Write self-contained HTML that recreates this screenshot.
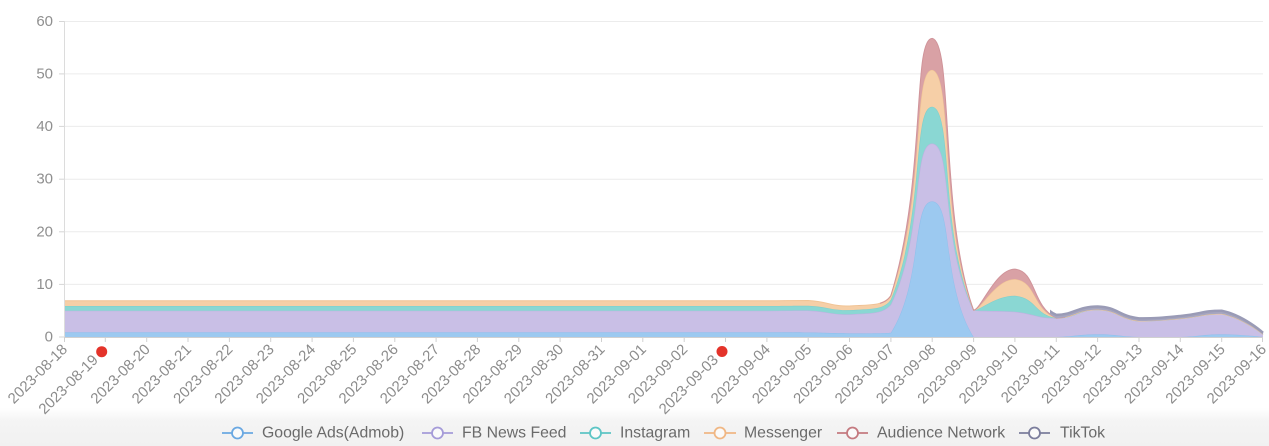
<!DOCTYPE html>
<html>
<head>
<meta charset="utf-8">
<style>
  html,body{margin:0;padding:0;background:#fff;}
  body{width:1269px;height:446px;overflow:hidden;position:relative;font-family:"Liberation Sans",Arial,sans-serif;}
  #bg{position:absolute;left:0;top:408px;width:1269px;height:38px;background:linear-gradient(#ffffff 0%,#f4f4f4 35%,#f1f1f1 100%);}
  svg{position:absolute;left:0;top:0;}
  .yl{font-size:15px;fill:#8f8f8f;}
  .xl{font-size:15px;fill:#8c8c8c;}
  .lg{font-size:15.8px;fill:#6a6a6a;}
</style>
</head>
<body>
<div id="bg"></div>
<svg width="1269" height="446" viewBox="0 0 1269 446" xmlns="http://www.w3.org/2000/svg" font-family="Liberation Sans, Arial, sans-serif">
  <defs>
    <clipPath id="clipRed"><rect x="880" y="0" width="185" height="340"/></clipPath>
    <clipPath id="clipTik"><rect x="1050" y="0" width="230" height="340"/></clipPath>
  </defs>
  <!-- grid lines -->
  <g stroke="#ececec" stroke-width="1">
    <line x1="64" y1="21.5" x2="1263" y2="21.5"/>
    <line x1="64" y1="73.9" x2="1263" y2="73.9"/>
    <line x1="64" y1="126.4" x2="1263" y2="126.4"/>
    <line x1="64" y1="179.2" x2="1263" y2="179.2"/>
    <line x1="64" y1="231.8" x2="1263" y2="231.8"/>
    <line x1="64" y1="284.4" x2="1263" y2="284.4"/>
  </g>
  <!-- y ticks -->
  <g stroke="#d6d6d6" stroke-width="1">
    <line x1="59" y1="21.5" x2="64" y2="21.5"/>
    <line x1="59" y1="73.9" x2="64" y2="73.9"/>
    <line x1="59" y1="126.4" x2="64" y2="126.4"/>
    <line x1="59" y1="179.2" x2="64" y2="179.2"/>
    <line x1="59" y1="231.8" x2="64" y2="231.8"/>
    <line x1="59" y1="284.4" x2="64" y2="284.4"/>
    <line x1="59" y1="337" x2="64" y2="337"/>
  </g>
  <g id="areas"></g>
  <!-- axes -->
  <line x1="64.5" y1="21" x2="64.5" y2="337" stroke="#dcdcdc" stroke-width="1"/>
  <line x1="64" y1="337.5" x2="1263" y2="337.5" stroke="#d0d0d0" stroke-width="1"/>
  <g stroke="#d0d0d0" stroke-width="1">
    <line x1="64.5" y1="337" x2="64.5" y2="342"/>
    <line x1="105.3" y1="337" x2="105.3" y2="342"/>
    <line x1="146.7" y1="337" x2="146.7" y2="342"/>
    <line x1="188.0" y1="337" x2="188.0" y2="342"/>
    <line x1="229.4" y1="337" x2="229.4" y2="342"/>
    <line x1="270.7" y1="337" x2="270.7" y2="342"/>
    <line x1="312.1" y1="337" x2="312.1" y2="342"/>
    <line x1="353.4" y1="337" x2="353.4" y2="342"/>
    <line x1="394.8" y1="337" x2="394.8" y2="342"/>
    <line x1="436.1" y1="337" x2="436.1" y2="342"/>
    <line x1="477.4" y1="337" x2="477.4" y2="342"/>
    <line x1="518.8" y1="337" x2="518.8" y2="342"/>
    <line x1="560.1" y1="337" x2="560.1" y2="342"/>
    <line x1="601.5" y1="337" x2="601.5" y2="342"/>
    <line x1="642.8" y1="337" x2="642.8" y2="342"/>
    <line x1="684.2" y1="337" x2="684.2" y2="342"/>
    <line x1="725.5" y1="337" x2="725.5" y2="342"/>
    <line x1="766.9" y1="337" x2="766.9" y2="342"/>
    <line x1="808.2" y1="337" x2="808.2" y2="342"/>
    <line x1="849.5" y1="337" x2="849.5" y2="342"/>
    <line x1="890.9" y1="337" x2="890.9" y2="342"/>
    <line x1="932.2" y1="337" x2="932.2" y2="342"/>
    <line x1="973.6" y1="337" x2="973.6" y2="342"/>
    <line x1="1014.9" y1="337" x2="1014.9" y2="342"/>
    <line x1="1056.3" y1="337" x2="1056.3" y2="342"/>
    <line x1="1097.6" y1="337" x2="1097.6" y2="342"/>
    <line x1="1139.0" y1="337" x2="1139.0" y2="342"/>
    <line x1="1180.3" y1="337" x2="1180.3" y2="342"/>
    <line x1="1221.7" y1="337" x2="1221.7" y2="342"/>
    <line x1="1262.5" y1="337" x2="1262.5" y2="342"/>
  </g>
  <!-- y labels -->
  <g class="yl" text-anchor="end" dominant-baseline="central">
    <text x="53" y="21.5">60</text>
    <text x="53" y="73.9">50</text>
    <text x="53" y="126.4">40</text>
    <text x="53" y="179.2">30</text>
    <text x="53" y="231.8">20</text>
    <text x="53" y="284.4">10</text>
    <text x="53" y="337">0</text>
  </g>
  <!-- x labels -->
  <g class="xl" text-anchor="end" dominant-baseline="central">
    <text transform="translate(65,347) rotate(-45)">2023-08-18</text>
    <text transform="translate(106.3,347) rotate(-45)" dx="-15">2023-08-19</text>
    <text transform="translate(147.7,347) rotate(-45)">2023-08-20</text>
    <text transform="translate(189.0,347) rotate(-45)">2023-08-21</text>
    <text transform="translate(230.4,347) rotate(-45)">2023-08-22</text>
    <text transform="translate(271.7,347) rotate(-45)">2023-08-23</text>
    <text transform="translate(313.1,347) rotate(-45)">2023-08-24</text>
    <text transform="translate(354.4,347) rotate(-45)">2023-08-25</text>
    <text transform="translate(395.8,347) rotate(-45)">2023-08-26</text>
    <text transform="translate(437.1,347) rotate(-45)">2023-08-27</text>
    <text transform="translate(478.4,347) rotate(-45)">2023-08-28</text>
    <text transform="translate(519.8,347) rotate(-45)">2023-08-29</text>
    <text transform="translate(561.1,347) rotate(-45)">2023-08-30</text>
    <text transform="translate(602.5,347) rotate(-45)">2023-08-31</text>
    <text transform="translate(643.8,347) rotate(-45)">2023-09-01</text>
    <text transform="translate(685.2,347) rotate(-45)">2023-09-02</text>
    <text transform="translate(726.5,347) rotate(-45)" dx="-15">2023-09-03</text>
    <text transform="translate(767.9,347) rotate(-45)">2023-09-04</text>
    <text transform="translate(809.2,347) rotate(-45)">2023-09-05</text>
    <text transform="translate(850.5,347) rotate(-45)">2023-09-06</text>
    <text transform="translate(891.9,347) rotate(-45)">2023-09-07</text>
    <text transform="translate(933.2,347) rotate(-45)">2023-09-08</text>
    <text transform="translate(974.6,347) rotate(-45)">2023-09-09</text>
    <text transform="translate(1015.9,347) rotate(-45)">2023-09-10</text>
    <text transform="translate(1057.3,347) rotate(-45)">2023-09-11</text>
    <text transform="translate(1098.6,347) rotate(-45)">2023-09-12</text>
    <text transform="translate(1140.0,347) rotate(-45)">2023-09-13</text>
    <text transform="translate(1181.3,347) rotate(-45)">2023-09-14</text>
    <text transform="translate(1222.7,347) rotate(-45)">2023-09-15</text>
    <text transform="translate(1264.0,347) rotate(-45)">2023-09-16</text>
  </g>
  <!-- red markers -->
  <circle cx="101.7" cy="351.7" r="5.5" fill="#e4332a"/>
  <circle cx="722" cy="351.5" r="5.5" fill="#e4332a"/>
  <!-- legend -->
  <g stroke-width="1.8" fill="#fafafa">
    <line x1="222" y1="433" x2="253" y2="433" stroke="#6aa8e2"/>
    <circle cx="237.5" cy="433" r="5.5" stroke="#6aa8e2"/>
    <line x1="422" y1="433" x2="453" y2="433" stroke="#a59bd8"/>
    <circle cx="437.5" cy="433" r="5.5" stroke="#a59bd8"/>
    <line x1="580" y1="433" x2="611" y2="433" stroke="#5cc5c5"/>
    <circle cx="595.5" cy="433" r="5.5" stroke="#5cc5c5"/>
    <line x1="704" y1="433" x2="736" y2="433" stroke="#f0b784"/>
    <circle cx="720" cy="433" r="5.5" stroke="#f0b784"/>
    <line x1="837" y1="433" x2="868" y2="433" stroke="#c47a80"/>
    <circle cx="852.5" cy="433" r="5.5" stroke="#c47a80"/>
    <line x1="1019" y1="433" x2="1050" y2="433" stroke="#7b7d9c"/>
    <circle cx="1034.5" cy="433" r="5.5" stroke="#7b7d9c"/>
  </g>
  <g class="lg" dominant-baseline="central">
    <text x="262" y="433">Google Ads(Admob)</text>
    <text x="462" y="433">FB News Feed</text>
    <text x="620" y="433">Instagram</text>
    <text x="744" y="433">Messenger</text>
    <text x="877" y="433">Audience Network</text>
    <text x="1060" y="433">TikTok</text>
  </g>
</svg>
<script>
(function(){
  var X0=64, DX=1199/29, Y0=337, K=315.5/60;
  function px(i){return X0+DX*i;}
  function py(v){return Y0-v*K;}
  function rep(v,n){var a=[];for(var i=0;i<n;i++)a.push(v);return a;}
  var blue=rep(0.9,18).concat([0.85,0.7,0.8,25.8,0,0,0,0.5,0,0,0.5,0]);
  var purple=rep(4.1,18).concat([4.2,3.6,5.4,11.0,5.1,4.8,3.6,4.7,3.05,3.5,3.9,0.5]);
  var teal=rep(0.9,18).concat([0.9,0.8,0.9,7.0,0,3.05,0,0,0,0,0,0]);
  var orange=rep(1.0,18).concat([1.0,0.8,0.8,7.0,0,3.15,0,0,0,0,0,0]);
  var red=rep(0,18).concat([0,0,0,6.0,0,1.9,0,0,0,0,0,0]);
  var tik=rep(0,24).concat([0.6,0.6,0.5,0.5,0.6,0.3]);
  var series=[blue,purple,teal,orange,red,tik];
  var cum=[];var acc=rep(0,30);
  for(var s=0;s<series.length;s++){
    var c=[];for(var i=0;i<30;i++){acc[i]+=series[s][i];c.push(acc[i]);}
    cum.push(c);
  }
  function clampSeg(p,a,b){
    return [Math.min(Math.max(p[0],Math.min(a[0],b[0])),Math.max(a[0],b[0])),
            Math.min(Math.max(p[1],Math.min(a[1],b[1])),Math.max(a[1],b[1]))];
  }
  function f(v){return v.toFixed(2);}
  // ECharts-4-like tangents, constrained per segment (no overshoot)
  function smooth(pts,first){
    var sm=0.5,n=pts.length;
    var d=(first?'M':'L')+f(pts[0][0])+','+f(pts[0][1]);
    var cp0=[pts[0][0],pts[0][1]];
    for(var k=1;k<n;k++){
      var p=pts[k],prev=pts[k-1],next=pts[k+1];
      var v=[0,0],ratio=0.5,cp1;
      if(!next){cp1=[p[0],p[1]];}
      else{
        v=[next[0]-prev[0],next[1]-prev[1]];
        var lp=Math.hypot(p[0]-prev[0],p[1]-prev[1]);
        var ln=Math.hypot(next[0]-p[0],next[1]-p[1]);
        ratio=ln/(ln+lp);
        cp1=[p[0]-v[0]*sm*(1-ratio),p[1]-v[1]*sm*(1-ratio)];
      }
      var c0=clampSeg(cp0,prev,p),c1=clampSeg(cp1,prev,p);
      d+='C'+[c0[0],c0[1],c1[0],c1[1],p[0],p[1]].map(f).join(',');
      cp0=[p[0]+v[0]*sm*ratio,p[1]+v[1]*sm*ratio];
    }
    return d;
  }
  function pts(arr){var p=[];for(var i=0;i<30;i++)p.push([px(i),py(arr[i])]);return p;}
  var fills=['#9cc9f0','#c9bfe6','#8ad7d3','#f6cfa7','#d9a1a5','#a6a6c0'];
  var strokes=['#8fc0ec','#bdb1e0','#7dcfcb','#f1c495','#d0949a','#9a9bb6'];
  var g=document.getElementById('areas');
  var html='';
  for(var s=0;s<6;s++){
    var top=pts(cum[s]);
    var d=smooth(top,true);
    if(s===0){d+='L'+f(px(29))+','+Y0+'L'+f(px(0))+','+Y0+'Z';}
    else{var bot=pts(cum[s-1]).reverse();d+=smooth(bot,false)+'Z';}
    var clip=s===5?' clip-path="url(#clipTik)"':'';
    html+='<path d="'+d+'" fill="'+fills[s]+'" stroke="none"'+clip+'/>';
    var lclip=s===4?' clip-path="url(#clipRed)"':(s===5?' clip-path="url(#clipTik)"':'');
    var w=s===5?2.5:1;
    html+='<path d="'+smooth(top,true)+'" fill="none" stroke="'+strokes[s]+'" stroke-width="'+w+'"'+lclip+'/>';
  }
  g.innerHTML=html;
})();
</script>
</body>
</html>
